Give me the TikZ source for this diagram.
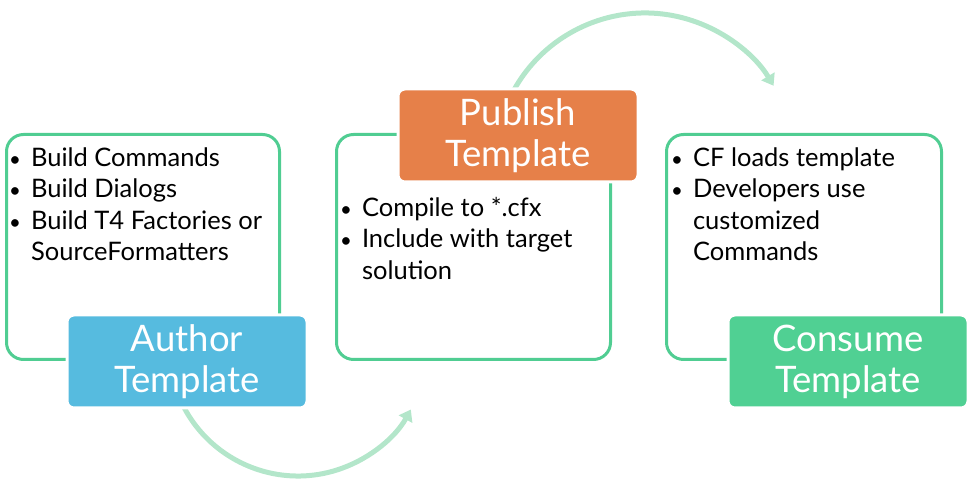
\documentclass[tikz,border=0pt]{standalone}
\usepackage{fontspec}
\setmainfont{Lato}
\usetikzlibrary{arrows.meta,calc}
\definecolor{boxline}{HTML}{50CD92}
\definecolor{cblue}{HTML}{56BBDF}
\definecolor{corange}{HTML}{E68049}
\definecolor{cgreen}{HTML}{50D093}
\definecolor{arcgreen}{HTML}{B3E6CA}
\tikzset{
  panel/.style={draw=boxline, line width=3pt, fill=white, rounded corners=17pt},
  label/.style={draw=white, line width=3pt, rounded corners=7pt, text=white,
    minimum width=240pt, minimum height=93pt, align=center, inner sep=0pt,
    font=\fontsize{36.5}{41}\selectfont},
  bullets/.style={anchor=north west, inner sep=0pt, align=left,
    font=\fontsize{25.5}{31.5}\selectfont},
  flow/.style={draw=arcgreen, line width=5pt, -{Triangle[length=11pt,width=15pt]}},
}
\newcommand{\blist}[1]{\begin{tabular}{@{}l@{\hspace{10pt}}l@{}}#1\end{tabular}}
\newcommand{\bul}{\scalebox{0.8}{\textbullet}}
\begin{document}
\begin{tikzpicture}[x=1pt,y=1pt]
\useasboundingbox (0,0) rectangle (972,489);
% arcs
\coordinate (lowstart) at ($(298,142)+(200:129)$);
\coordinate (upstart) at ($(645,326)+(160:150)$);
\draw[flow] (lowstart) arc[start angle=200, end angle=331, radius=129];
\draw[flow] (upstart) arc[start angle=160, end angle=31, radius=150];
% panels
\node[panel, minimum width=273pt, minimum height=225pt, anchor=south west] (p1) at (5,128) {};
\node[panel, minimum width=274pt, minimum height=225pt, anchor=south west] (p2) at (335,128) {};
\node[panel, minimum width=275pt, minimum height=225pt, anchor=south west] (p3) at (665,128) {};
% texts
\node[bullets] (t1) at (9,345) {\blist{\bul & Build Commands\\ \bul & Build Dialogs\\ \bul & Build T4 Factories or\\ & SourceFormatters}};
\node[bullets] (t2) at (340,295) {\blist{\bul & Compile to *.cfx\\ \bul & Include with target\\ & solution}};
\node[bullets] (t3) at (671,345) {\blist{\bul & CF loads template\\ \bul & Developers use\\ & customized\\ & Commands}};
% labels
\node[label, fill=cblue] (author) at (187,127.5) {Author\\Template};
\node[label, fill=corange] (publish) at (518,353.5) {Publish\\Template};
\node[label, fill=cgreen] (consume) at (848,127.5) {Consume\\Template};
\end{tikzpicture}
\end{document}
